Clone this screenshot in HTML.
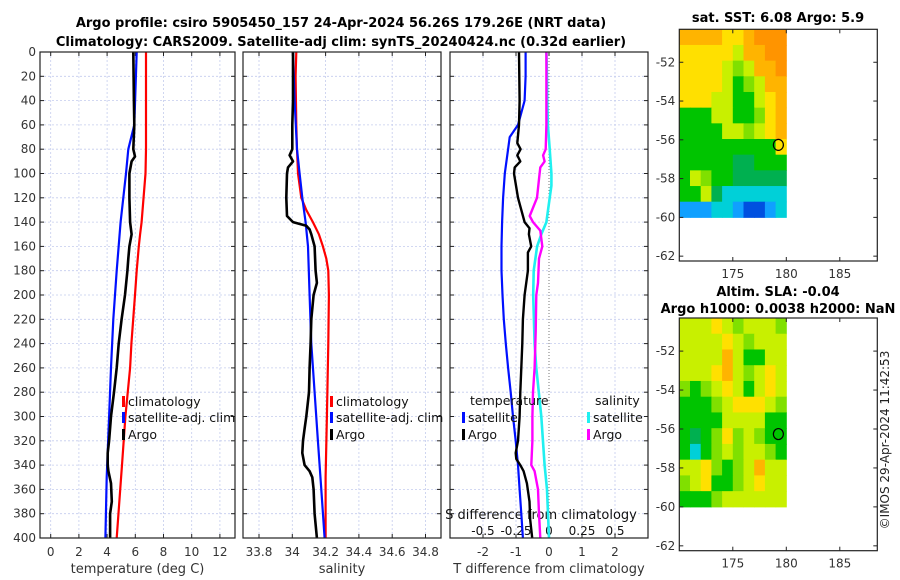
<!DOCTYPE html>
<html><head><meta charset="utf-8">
<style>
html,body{margin:0;padding:0;background:#fff;}
svg{display:block;font-family:"DejaVu Sans","Liberation Sans",sans-serif;}
</style></head>
<body>
<svg id="fig" width="900" height="580" viewBox="0 0 900 580" xmlns="http://www.w3.org/2000/svg">
<text x="341" y="27" text-anchor="middle" font-size="13" font-weight="bold">Argo profile: csiro 5905450_157 24-Apr-2024 56.26S 179.26E (NRT data)</text>
<text x="341" y="46" text-anchor="middle" font-size="13" font-weight="bold">Climatology: CARS2009. Satellite-adj clim: synTS_20240424.nc (0.32d earlier)</text>
<text x="778" y="22" text-anchor="middle" font-size="13" font-weight="bold">sat. SST: 6.08 Argo: 5.9</text>
<text x="778" y="296" text-anchor="middle" font-size="13" font-weight="bold">Altim. SLA: -0.04</text>
<text x="778" y="313" text-anchor="middle" font-size="13" font-weight="bold">Argo h1000: 0.0038 h2000: NaN</text>
<text transform="translate(889,440) rotate(-90)" text-anchor="middle" font-size="12" fill="#222">©IMOS 29-Apr-2024 11:42:53</text>
<g id="g"></g>
</svg>
<script>
// ---- data ----
const tDepth=[0,40,60,80,100,140,150,160,180,200,220,240,260,300,340,350,400];
const tClim=[6.76,6.76,6.76,6.76,6.72,6.45,6.34,6.25,6.1,5.98,5.85,5.72,5.63,5.3,5.06,4.99,4.68];
const tSatDepth=[0,60,80,100,140,180,220,260,300,350,400];
const tSat=[6.1,5.93,5.5,5.34,4.96,4.68,4.44,4.28,4.14,3.97,3.88];
const tArgoDepth=[0,40,60,80,86,90,100,120,140,150,160,170,180,200,220,240,260,280,300,320,330,340,345,355,370,380,400];
const tArgo=[5.86,5.9,5.93,5.86,5.98,5.74,5.58,5.58,5.63,5.74,5.58,5.5,5.44,5.27,5.03,4.82,4.68,4.49,4.28,4.14,4.04,4.04,4.09,4.28,4.33,4.21,4.21];
const sClimDepth=[0,20,60,80,100,120,130,140,150,160,170,180,200,240,300,350,400];
const sClim=[34.024,34.02,34.024,34.028,34.034,34.054,34.084,34.124,34.16,34.184,34.204,34.216,34.22,34.216,34.208,34.2,34.2];
const sSatDepth=[0,40,80,100,120,140,160,200,240,280,320,360,400];
const sSat=[34.004,34.014,34.028,34.044,34.06,34.08,34.094,34.104,34.114,34.134,34.154,34.174,34.194];
const sArgoDepth=[0,40,60,80,85,90,95,100,120,135,140,143,146,150,160,180,190,200,220,240,260,280,300,310,320,330,340,345,350,360,380,400];
const sArgo=[34.004,34.004,34.0,34.0,33.984,34.004,33.974,33.968,33.964,33.968,34.004,34.084,34.104,34.114,34.134,34.14,34.148,34.128,34.114,34.11,34.104,34.1,34.084,34.074,34.064,34.06,34.074,34.104,34.12,34.128,34.134,34.148];
const dTSatDepth=[0,20,40,50,60,70,80,100,120,140,160,180,200,220,240,260,280,300,320,340,360,380,400];
const dTSat=[-0.71,-0.71,-0.74,-0.84,-0.94,-1.19,-1.24,-1.34,-1.39,-1.42,-1.44,-1.44,-1.41,-1.37,-1.31,-1.24,-1.16,-1.09,-1.01,-0.94,-0.89,-0.84,-0.79];
const dTArgoDepth=[0,40,60,75,80,85,90,95,100,120,140,145,150,160,165,180,200,220,240,260,280,300,320,330,335,340,345,355,370,385,400];
const dTArgo=[-0.91,-0.89,-0.91,-0.96,-0.86,-0.96,-0.87,-1.04,-1.06,-0.94,-0.74,-0.59,-0.61,-0.54,-0.64,-0.64,-0.74,-0.79,-0.81,-0.84,-0.87,-0.89,-0.94,-1.01,-0.99,-0.87,-0.77,-0.67,-0.59,-0.57,-0.51];
const dSSatDepth=[0,20,40,60,80,100,110,120,140,150,160,180,200,240,260,300,340,360,400];
const dSSat=[-0.02,-0.015,-0.013,-0.008,0.005,0.018,0.018,0.005,-0.02,-0.058,-0.09,-0.116,-0.12,-0.109,-0.096,-0.058,-0.033,-0.015,0.0];
const dSArgoDepth=[0,40,60,80,85,90,95,100,120,135,140,147,160,170,190,200,230,260,280,300,320,340,345,360,380,400];
const dSArgo=[-0.02,-0.02,-0.02,-0.025,-0.045,-0.033,-0.066,-0.071,-0.091,-0.146,-0.121,-0.066,-0.051,-0.076,-0.083,-0.096,-0.101,-0.109,-0.121,-0.126,-0.126,-0.134,-0.109,-0.083,-0.076,-0.066];
const depthTicks=[0,20,40,60,80,100,120,140,160,180,200,220,240,260,280,300,320,340,360,380,400];
const tTicks=[0,2,4,6,8,10,12];
const sTicks=[33.8,34,34.2,34.4,34.6,34.8];
const sTickLabels=["33.8","34","34.2","34.4","34.6","34.8"];
const dTTicks=[-2,-1,0,1,2];
const dSTicks=[-0.5,-0.25,0,0.25,0.5];
const dSTickLabels=["-0.5","-0.25","0","0.25","0.5"];
const lonTicks=[175,180,185];
const latTicks=[-52,-54,-56,-58,-60,-62];
const palette=['#0050e0','#10a0ff','#00d0d8','#00b050','#00c400','#80e000','#c8f000','#ffe000','#ffb400','#ff9400'];
const sstGrid=[
[8,8,8,8,7,7,8,9,9,9],[7,7,7,7,7,6,8,8,9,9],[7,7,7,7,6,5,6,8,8,9],[7,7,7,7,6,4,5,6,8,8],
[7,7,7,6,6,4,4,6,7,8],[4,4,4,6,6,4,4,5,7,8],[4,4,4,4,6,6,5,6,7,8],[4,4,4,4,4,4,4,4,4,7],
[4,4,4,4,4,3,3,4,4,4],[4,6,5,4,4,3,3,3,3,3],[4,4,6,3,2,2,2,2,2,2],[1,1,1,2,2,1,0,0,1,2]];
const slaGrid=[
[6,6,6,7,6,5,6,6,6,5],[6,6,6,6,7,6,5,6,6,6],[6,6,6,6,8,6,4,4,6,6],[6,6,6,7,8,6,5,6,7,6],
[5,4,5,6,7,6,4,6,7,6],[4,4,4,5,6,7,7,7,6,5],[4,4,4,4,6,6,6,6,4,4],[4,3,4,5,7,5,6,5,4,4],
[4,2,4,5,6,5,6,6,5,4],[6,6,7,5,4,5,6,8,6,6],[5,6,7,4,4,5,6,7,6,6],[4,4,4,5,6,6,6,6,6,6]];
const argoLon=179.26, argoLat=-56.26;

// ---- helpers ----
const NS='http://www.w3.org/2000/svg';
const G=document.getElementById('g');
function el(tag,attrs,parent){const e=document.createElementNS(NS,tag);for(const k in attrs)e.setAttribute(k,attrs[k]);(parent||G).appendChild(e);return e;}
const yD=d=>52+d*1.215;
const panels=[
 {x0:40,x1:235,fx:v=>50.7+v*14.1,ticks:tTicks,labels:tTicks.map(String),xlabel:'temperature (deg C)',name:'temperature'},
 {x0:243,x1:441,fx:v=>259+(v-33.8)*166.5,ticks:sTicks,labels:sTickLabels,xlabel:'salinity',name:'salinity'},
 {x0:450,x1:648,fx:v=>549+v*33,ticks:dTTicks,labels:dTTicks.map(String),xlabel:'T difference from climatology',name:'difference'}];
const fS=v=>549+v*132;

panels.forEach((p,pi)=>{
  const grp=el('g',{});
  
  
  depthTicks.forEach(d=>{
    const l=el('line',{x1:p.x0,x2:p.x1,y1:yD(d),y2:yD(d),stroke:'#c4cced','stroke-width':0.8,'stroke-dasharray':'2,2'},grp);
    
    
    el('line',{x1:p.x0,x2:p.x0+4,y1:yD(d),y2:yD(d),stroke:'#222'},grp);
    el('line',{x1:p.x1-4,x2:p.x1,y1:yD(d),y2:yD(d),stroke:'#222'},grp);
  });
  p.ticks.forEach((v,i)=>{
    const x=p.fx(v);
    const l=el('line',{x1:x,x2:x,y1:52,y2:538,stroke:(pi==2&&v==0)?'#555':'#c4cced','stroke-width':0.8,'stroke-dasharray':(pi==2&&v==0)?'1,2':'2,2'},grp);
    
    
    el('line',{x1:x,x2:x,y1:534,y2:538,stroke:'#222'},grp);
    el('line',{x1:x,x2:x,y1:52,y2:56,stroke:'#222'},grp);
    const t=el('text',{x:x,y:556,'text-anchor':'middle','font-size':12,fill:'#333'},grp);
    t.textContent=p.labels[i];
    
    
  });
  const xl=el('text',{x:(p.x0+p.x1)/2,y:573,'text-anchor':'middle','font-size':13,fill:'#333'},grp);
  xl.textContent=p.xlabel;
  
  
});
depthTicks.forEach(d=>{
  const t=el('text',{x:36,y:yD(d)+4,'text-anchor':'end','font-size':12,fill:'#333'});
  t.textContent=String(d);
  
  
});
dSTicks.forEach((v,i)=>{
  const t=el('text',{x:fS(v),y:535,'text-anchor':'middle','font-size':12,fill:'#111'});
  t.textContent=dSTickLabels[i];
  
  
});
const sdl=el('text',{x:541,y:519,'text-anchor':'middle','font-size':13,fill:'#111'});
sdl.textContent='S difference from climatology';



function line(depths,vals,fx,color,name,w){
  const pts=depths.map((d,i)=>fx(vals[i]).toFixed(1)+','+yD(d).toFixed(1)).join(' ');
  const l=el('polyline',{points:pts,fill:'none',stroke:color,'stroke-width':w||2.2,'stroke-linejoin':'round'});
  
  
}
line(tDepth,tClim,panels[0].fx,'#ff0000','temperature-climatology-line');
line(tSatDepth,tSat,panels[0].fx,'#0010ff','temperature-satellite-line');
line(tArgoDepth,tArgo,panels[0].fx,'#000','temperature-argo-line',2.6);
line(sClimDepth,sClim,panels[1].fx,'#ff0000','salinity-climatology-line');
line(sSatDepth,sSat,panels[1].fx,'#0010ff','salinity-satellite-line');
line(sArgoDepth,sArgo,panels[1].fx,'#000','salinity-argo-line',2.6);
line(dSSatDepth,dSSat,fS,'#20f0f0','s-diff-satellite-line',2.6);
line(dSArgoDepth,dSArgo,fS,'#ff00ff','s-diff-argo-line',2.4);
line(dTSatDepth,dTSat,panels[2].fx,'#0010ff','t-diff-satellite-line');
line(dTArgoDepth,dTArgo,panels[2].fx,'#000','t-diff-argo-line',2.4);

panels.forEach(p=>{
  const r=el('rect',{x:p.x0,y:52,width:p.x1-p.x0,height:486,fill:'none',stroke:'#222','stroke-width':1.2});
  
  
});

function legendEntry(x,y,color,label){
  const m=el('rect',{x:x,y:y-9,width:3,height:11,fill:color});
  
  
  const t=el('text',{x:x+6,y:y+1,'font-size':12.5,fill:'#111'});
  t.textContent=label;
  
  
}
legendEntry(122,405,'#ff0000','climatology');
legendEntry(122,421,'#0010ff','satellite-adj. clim');
legendEntry(122,438,'#000','Argo');
legendEntry(330,405,'#ff0000','climatology');
legendEntry(330,421,'#0010ff','satellite-adj. clim');
legendEntry(330,438,'#000','Argo');
const lt1=el('text',{x:470,y:405,'font-size':12.5,fill:'#111'});lt1.textContent='temperature';


const lt2=el('text',{x:595,y:405,'font-size':12.5,fill:'#111'});lt2.textContent='salinity';


legendEntry(462,421,'#0010ff','satellite');
legendEntry(462,438,'#000','Argo');
legendEntry(587,421,'#20f0f0','satellite');
legendEntry(587,438,'#ff00ff','Argo');

function drawMap(top,bottom,grid,name){
  const x0=679.3,x1=877.3;
  const lonX=l=>x0+(l-170)*10.7;
  const latY=a=>top+(-50.3-a)*(bottom-top)/11.95;
  const grp=el('g',{});
  
  
  const rows=grid.length, cols=grid[0].length;
  const yTop=latY(-50.3), yBot=latY(-60);
  const cw=(lonX(180)-lonX(170))/cols, ch=(yBot-yTop)/rows;
  grid.forEach((row,r)=>row.forEach((v,c)=>{
    const cell=el('rect',{x:(lonX(170)+c*cw).toFixed(2),y:(yTop+r*ch).toFixed(2),width:(cw+0.5).toFixed(2),height:(ch+0.5).toFixed(2),fill:palette[v]},grp);
    
    
  }));
  const f=el('rect',{x:x0,y:top,width:x1-x0,height:bottom-top,fill:'none',stroke:'#222','stroke-width':1.2},grp);
  
  
  lonTicks.forEach(l=>{
    const x=lonX(l);
    el('line',{x1:x,x2:x,y1:bottom-4,y2:bottom,stroke:'#222'},grp);
    el('line',{x1:x,x2:x,y1:top,y2:top+4,stroke:'#222'},grp);
    const t=el('text',{x:x,y:bottom+17,'text-anchor':'middle','font-size':12,fill:'#333'},grp);
    t.textContent=String(l);
    
    
  });
  latTicks.forEach(a=>{
    const y=latY(a);
    el('line',{x1:x0,x2:x0+4,y1:y,y2:y,stroke:'#222'},grp);
    el('line',{x1:x1-4,x2:x1,y1:y,y2:y,stroke:'#222'},grp);
    const t=el('text',{x:x0-4,y:y+4,'text-anchor':'end','font-size':12,fill:'#333'},grp);
    t.textContent=String(a);
    
    
  });
  const c=el('ellipse',{cx:lonX(argoLon),cy:latY(argoLat),rx:5,ry:5.5,fill:'none',stroke:'#000','stroke-width':1.2},grp);
  
  
}
drawMap(29.3,261,sstGrid,'sst-map');
drawMap(318,550.7,slaGrid,'sla-map');
</script>
</body></html>
